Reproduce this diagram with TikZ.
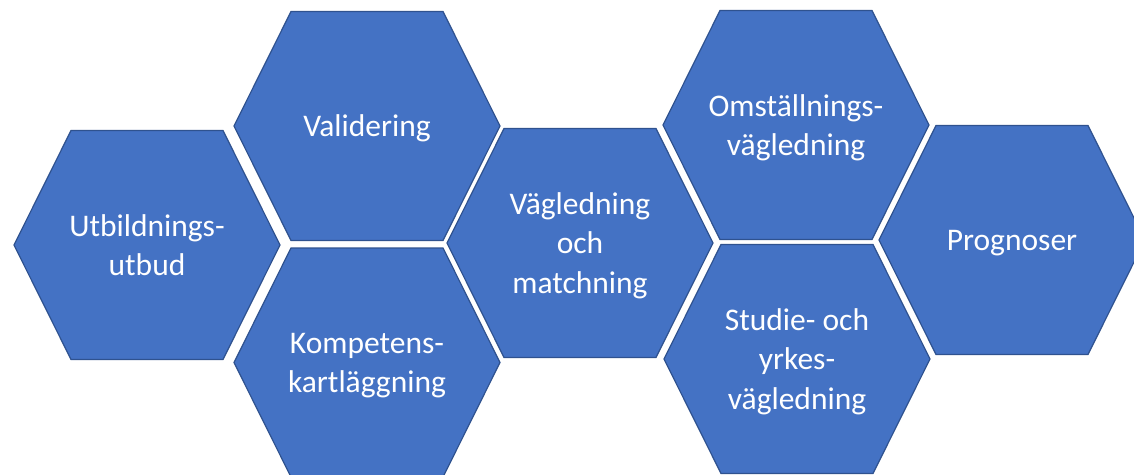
\documentclass[tikz,border=0pt]{standalone}
\usepackage{fontspec}
\setmainfont{Carlito}
\usepackage{tikz}
\definecolor{hexfill}{HTML}{4472C4}
\definecolor{hexedge}{HTML}{2F528F}
\newcommand{\hstrut}{\rule[-0.269em]{0pt}{1.221em}}
% one cell: name, x, y, text
\newcommand{\hexcell}[4]{%
  \draw[hexline] (#2-133,#3) -- (#2-76,#3-114.5) -- (#2+76,#3-114.5) -- (#2+133,#3)
    -- (#2+76,#3+114.5) -- (#2-76,#3+114.5) -- cycle;
  \node[hextext] (#1) at (#2,#3) {#4};}

\begin{document}
\begin{tikzpicture}[x=1pt, y=-1pt]
\tikzset{hexline/.style={fill=hexfill, draw=hexedge, line width=1.2pt, line join=miter},
  hextext/.style={text=white, align=center, inner sep=0pt,
    font=\fontsize{31.5}{38.3}\selectfont}}
\useasboundingbox (0,0) rectangle (1134,474);

\hexcell{utbud}{147}{245}{Utbildnings-\hstrut\\utbud\hstrut}
\hexcell{valid}{367}{126}{Validering\hstrut}
\hexcell{kart}{367}{362.5}{Kompetens-\hstrut\\kartläggning\hstrut}
\hexcell{match}{580}{243}{Vägledning\hstrut\\och\hstrut\\matchning\hstrut}
\hexcell{omst}{796}{125}{Omställnings-\hstrut\\vägledning\hstrut}
\hexcell{syv}{797}{359}{Studie- och\hstrut\\yrkes-\hstrut\\vägledning\hstrut}
\hexcell{progn}{1012}{240}{Prognoser\hstrut}
\end{tikzpicture}
\end{document}
